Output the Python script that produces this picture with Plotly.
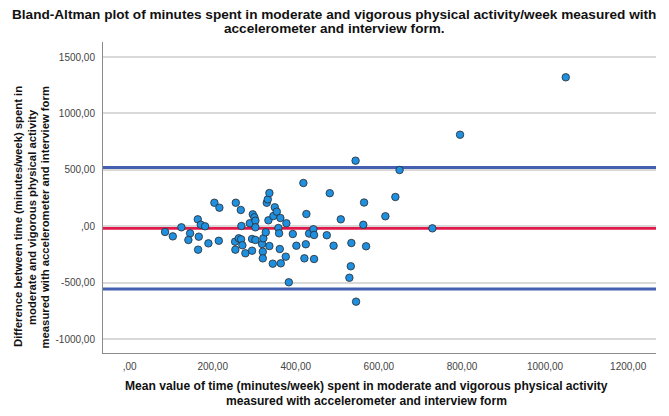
import plotly.graph_objects as go

# Mean of the two methods (minutes/week)
mean_values = [85.4, 104.0, 124.7, 145.6, 141.5, 164.1, 171.4, 181.7, 166.5, 164.9,
               189.7, 204.1, 216.1, 214.7, 255.6, 267.6, 269.1, 253.9, 262.8, 268.4,
               254.6, 271.5, 278.7, 289.3, 294.8, 296.5, 300.4, 302.8, 302.8, 302.8,
               294.8, 318.9, 322.0, 327.8, 320.6, 320.6, 334.1, 336.5, 330.2, 332.6,
               336.5, 346.1, 349.5, 354.3, 362.9, 377.4, 358.1, 359.8, 392.8, 401.4,
               361.5, 375.9, 344.6, 363.9, 383.2, 418.3, 425.5, 432.0, 442.4, 444.0,
               424.1, 420.7, 444.0, 474.6, 481.8, 508.3, 491.0, 543.9, 564.4, 562.5,
               533.8, 569.2, 532.4, 529.0, 545.1, 615.6, 639.7, 649.8, 728.8, 795.4,
               1049.8]
# Difference between the two methods (minutes/week)
diff_values = [-51, -90, -10, -63, -122, 61, 13, -1, -93, -208,
               -152, 208, 164, -129, 208, 144, 2, -137, -107, -116,
               -208, -169, -240, 26, -113, 105, 79, 49, -10, -122,
               -217, -158, -107, -54, -226, -285, 52, -176, 208, 238,
               294, 90, 168, 129, 73, 26, -16, -63, -69, -173,
               -202, -270, -332, -329, -497, 383, 108, -65, -27, -78,
               -160, -285, -291, -80, 293, 61, -173, 581, 210, 13,
               -149, -178, -355, -457, -669, 88, 259, 498, -19, 811,
               1320]

mean_diff = -18
upper_loa = 521
lower_loa = -557

x_tick_vals = [0, 200, 400, 600, 800, 1000, 1200]
x_tick_text = [",00", "200,00", "400,00", "600,00", "800,00", "1000,00", "1200,00"]
y_tick_vals = [-1000, -500, 0, 500, 1000, 1500]
y_tick_text = ["-1000,00", "-500,00", ",00", "500,00", "1000,00", "1500,00"]

title_lines = ["Bland-Altman plot of minutes spent in moderate and vigorous physical activity/week measured with",
               "accelerometer and interview form."]
x_title_lines = ["Mean value of time (minutes/week) spent in moderate and vigorous physical activity",
                 "measured with accelerometer and interview form"]
y_title_lines = ["Difference between time (minutes/week) spent in",
                 "moderate and vigorous physical activity",
                 "measured with accelerometer and interview form"]

FONT = "Liberation Sans, Arial, sans-serif"

fig = go.Figure()

fig.add_trace(go.Scatter(
    x=mean_values, y=diff_values, mode="markers",
    marker=dict(size=7.5, color="#1f8fe0", line=dict(color="#2a2a2a", width=0.8)),
    showlegend=False, hoverinfo="x+y",
))

for val, col in [(upper_loa, "#4560b0"), (lower_loa, "#4560b0"), (mean_diff, "#e21a4c")]:
    fig.add_shape(type="line", xref="paper", x0=0, x1=1, yref="y", y0=val, y1=val,
                  line=dict(color=col, width=3), layer="below")

annotations = []
for txt, yy in zip(title_lines, [1.09, 1.0434]):
    annotations.append(dict(text="<b>" + txt + "</b>", xref="paper", yref="paper",
                            x=0.4186, y=yy, xanchor="center", yanchor="middle",
                            showarrow=False, font=dict(size=13.6, color="#111", family=FONT)))
for txt, yy in zip(x_title_lines, [-0.1061, -0.1543]):
    annotations.append(dict(text="<b>" + txt + "</b>", xref="paper", yref="paper",
                            x=0.4756, y=yy, xanchor="center", yanchor="middle",
                            showarrow=False, font=dict(size=12.1, color="#111", family=FONT)))
for txt, xx in zip(y_title_lines, [-0.1537, -0.1284, -0.104]):
    annotations.append(dict(text="<b>" + txt + "</b>", xref="paper", yref="paper",
                            x=xx, y=0.4373, xanchor="center", yanchor="middle", textangle=-90,
                            showarrow=False, font=dict(size=11.3, color="#111", family=FONT)))

fig.update_layout(
    width=661, height=408,
    margin=dict(l=95, r=13, t=34, b=63),
    paper_bgcolor="white", plot_bgcolor="white",
    font=dict(family=FONT, color="#222"),
    showlegend=False,
    xaxis=dict(range=[-64, 1267], tickvals=x_tick_vals, ticktext=x_tick_text,
               showgrid=False, zeroline=False, showline=True, linecolor="#8a8a8a",
               linewidth=1, ticks="", tickfont=dict(size=10, color="#444"),
               ticklabelstandoff=4),
    yaxis=dict(range=[-1124, 1633], tickvals=y_tick_vals, ticktext=y_tick_text,
               showgrid=True, gridcolor="#d9d9d9", gridwidth=1.5, zeroline=False,
               showline=True, linecolor="#8a8a8a", linewidth=1, ticks="",
               tickfont=dict(size=10, color="#444"), ticklabelstandoff=5),
    annotations=annotations,
)

fig.write_html("out.html")
